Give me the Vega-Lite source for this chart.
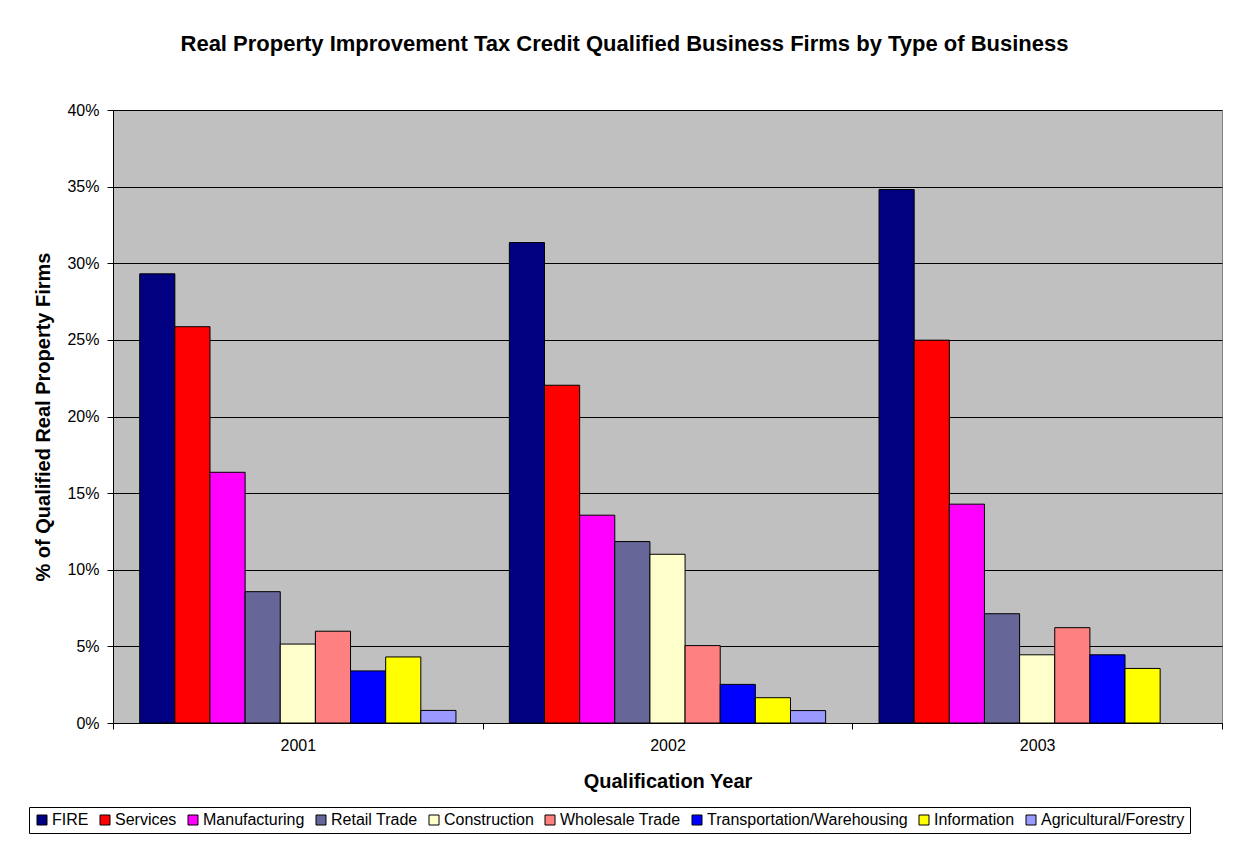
{
  "$schema": "https://vega.github.io/schema/vega-lite/v6.json",
  "width": 1109,
  "height": 613,
  "autosize": {"type": "none"},
  "padding": {"left": 113, "top": 110, "right": 16, "bottom": 118},
  "background": "white",
  "title": {
    "text": "Real Property Improvement Tax Credit Qualified Business Firms by Type of Business",
    "fontSize": 22,
    "font": "Liberation Sans",
    "fontWeight": "bold",
    "color": "black",
    "anchor": "middle",
    "dx": -43,
    "offset": 46
  },
  "data": {
    "values": [
      {"year": "2001", "type": "FIRE", "pct": 0.2931},
      {"year": "2001", "type": "Services", "pct": 0.2586},
      {"year": "2001", "type": "Manufacturing", "pct": 0.1636},
      {"year": "2001", "type": "Retail Trade", "pct": 0.0857},
      {"year": "2001", "type": "Construction", "pct": 0.0515},
      {"year": "2001", "type": "Wholesale Trade", "pct": 0.0599},
      {"year": "2001", "type": "Transportation/Warehousing", "pct": 0.034},
      {"year": "2001", "type": "Information", "pct": 0.0431},
      {"year": "2001", "type": "Agricultural/Forestry", "pct": 0.0082},
      {"year": "2002", "type": "FIRE", "pct": 0.3135},
      {"year": "2002", "type": "Services", "pct": 0.2204},
      {"year": "2002", "type": "Manufacturing", "pct": 0.1356},
      {"year": "2002", "type": "Retail Trade", "pct": 0.1184},
      {"year": "2002", "type": "Construction", "pct": 0.1101},
      {"year": "2002", "type": "Wholesale Trade", "pct": 0.0505},
      {"year": "2002", "type": "Transportation/Warehousing", "pct": 0.0252},
      {"year": "2002", "type": "Information", "pct": 0.0165},
      {"year": "2002", "type": "Agricultural/Forestry", "pct": 0.0081},
      {"year": "2003", "type": "FIRE", "pct": 0.3481},
      {"year": "2003", "type": "Services", "pct": 0.2498},
      {"year": "2003", "type": "Manufacturing", "pct": 0.1428},
      {"year": "2003", "type": "Retail Trade", "pct": 0.0713},
      {"year": "2003", "type": "Construction", "pct": 0.0445},
      {"year": "2003", "type": "Wholesale Trade", "pct": 0.0622},
      {"year": "2003", "type": "Transportation/Warehousing", "pct": 0.0445},
      {"year": "2003", "type": "Information", "pct": 0.0356}
    ]
  },
  "mark": {"type": "bar", "stroke": "black", "strokeWidth": 1},
  "encoding": {
    "x": {
      "field": "year",
      "type": "nominal",
      "scale": {"paddingInner": 0, "paddingOuter": 0},
      "axis": {
        "title": "Qualification Year",
        "titleFontSize": 20,
        "titleFontWeight": "bold",
        "titleColor": "black",
        "titlePadding": 18,
        "labelAngle": 0,
        "labelFontSize": 16,
        "labelColor": "black",
        "labelPadding": 8,
        "tickBand": "extent",
        "tickSize": 6,
        "tickColor": "black",
        "domainColor": "black",
        "grid": false
      }
    },
    "xOffset": {
      "field": "type",
      "type": "nominal",
      "scale": {
        "domain": ["FIRE", "Services", "Manufacturing", "Retail Trade", "Construction", "Wholesale Trade", "Transportation/Warehousing", "Information", "Agricultural/Forestry"],
        "paddingInner": 0,
        "paddingOuter": 0.76
      }
    },
    "y": {
      "field": "pct",
      "type": "quantitative",
      "scale": {"domain": [0, 0.4]},
      "axis": {
        "values": [0, 0.05, 0.1, 0.15, 0.2, 0.25, 0.3, 0.35, 0.4],
        "format": ".0%",
        "title": "% of Qualified Real Property Firms",
        "titleFontSize": 20,
        "titleFontWeight": "bold",
        "titleColor": "black",
        "titlePadding": 13,
        "labelFontSize": 16,
        "labelColor": "black",
        "labelPadding": 8,
        "grid": true,
        "gridColor": "black",
        "gridOpacity": 1,
        "gridWidth": 1,
        "tickColor": "black",
        "tickSize": 6,
        "domainColor": "black"
      }
    },
    "color": {
      "field": "type",
      "type": "nominal",
      "scale": {
        "domain": ["FIRE", "Services", "Manufacturing", "Retail Trade", "Construction", "Wholesale Trade", "Transportation/Warehousing", "Information", "Agricultural/Forestry"],
        "range": ["#000080", "#FF0000", "#FF00FF", "#666699", "#FFFFCC", "#FF8080", "#0000FF", "#FFFF00", "#9999FF"]
      },
      "legend": {
        "title": null,
        "orient": "none",
        "legendX": -84,
        "legendY": 697,
        "direction": "horizontal",
        "columns": 9,
        "symbolType": "square",
        "symbolSize": 100,
        "symbolStrokeColor": "black",
        "symbolStrokeWidth": 1,
        "symbolOpacity": 1,
        "labelFontSize": 16,
        "labelColor": "black",
        "labelOffset": 2,
        "labelLimit": 400,
        "columnPadding": 8,
        "strokeColor": "black",
        "fillColor": "white",
        "padding": 5
      }
    }
  },
  "config": {
    "font": "Liberation Sans",
    "view": {"fill": "#C0C0C0", "stroke": "#808080"},
    "axis": {"labelFont": "Liberation Sans", "titleFont": "Liberation Sans"},
    "legend": {"labelFont": "Liberation Sans"}
  }
}
